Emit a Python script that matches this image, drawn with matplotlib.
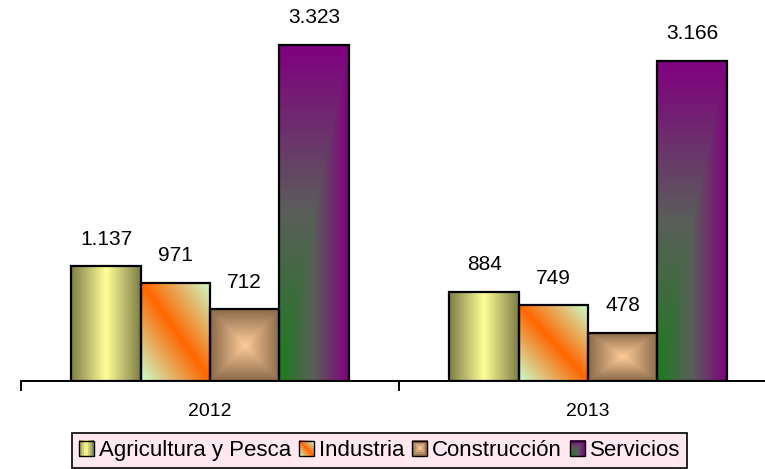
import numpy as np
import matplotlib
matplotlib.use("Agg")
import matplotlib.pyplot as plt
from matplotlib.patches import Rectangle
from matplotlib.legend_handler import HandlerBase
from matplotlib.colors import to_rgb
import matplotlib.transforms as mtransforms

plt.rcParams['font.family'] = ['Liberation Sans', 'DejaVu Sans']

years = ["2012", "2013"]
sectors = ["Agricultura y Pesca", "Industria", "Construcción", "Servicios"]
agricultura = [1137, 884]
industria = [971, 749]
construccion = [712, 478]
servicios = [3323, 3166]
series = [agricultura, industria, construccion, servicios]


def mix(c0, c1, t):
    c0 = np.array(to_rgb(c0)); c1 = np.array(to_rgb(c1))
    t = np.clip(t, 0, 1)[..., None]
    return c0 * (1 - t) + c1 * t


def mix3(c0, c1, c2, t):
    t = np.clip(t, 0, 1)
    a = mix(c0, c1, t * 2)
    b = mix(c1, c2, t * 2 - 1)
    return np.where((t < 0.5)[..., None], a, b)


def grad_agri(xn, yn):
    return mix("#FFFF99", "#7E7E45", np.abs(xn - 0.5) * 2)


def grad_ind(xn, yn):
    return mix("#FF6600", "#CCFFCC", np.abs(xn + yn - 1))


def grad_con(xn, yn):
    t = np.maximum(np.abs(xn - 0.5), np.abs(yn - 0.5)) * 2
    return mix("#FFCC99", "#8A6A4A", t)


def grad_serv(xn, yn):
    t = np.maximum(xn, yn)
    return mix3("#1C7C1C", "#5A5E5A", "#800080", t)


grads = [grad_agri, grad_ind, grad_con, grad_serv]


def grad_image(fn, n=120):
    xs = np.linspace(0, 1, n)
    ys = np.linspace(0, 1, n)
    X, Y = np.meshgrid(xs, ys)
    return fn(X, Y)


fig = plt.figure(figsize=(7.65, 4.69), dpi=100)
W, H = 765, 469
ax = fig.add_axes([21 / W, (H - 381) / H, 756 / W, 381 / H])

x = np.arange(len(years))
bw = 0.1833
offsets = (np.arange(4) - 1.5) * bw
lab_shift = mtransforms.ScaledTranslation(0, 27 / 100, fig.dpi_scale_trans)

for s, (vals, fn) in enumerate(zip(series, grads)):
    img = grad_image(fn)
    for i, v in enumerate(vals):
        x0 = x[i] + offsets[s] - bw / 2
        ax.imshow(img, extent=(x0, x0 + bw, 0, v), origin="lower",
                  aspect="auto", interpolation="bilinear", zorder=2)
        ax.add_patch(Rectangle((x0, 0), bw, v, facecolor="none",
                               edgecolor="black", linewidth=1.6, zorder=3))
        ax.text(x[i] + offsets[s], v, f"{v:,}".replace(",", "."),
                ha="center", va="center", fontsize=15,
                transform=ax.transData + lab_shift, zorder=4)

ax.set_xlim(-0.5, 1.5)
ax.set_ylim(0, 3768)
for sp in ["left", "top", "right"]:
    ax.spines[sp].set_visible(False)
ax.spines["bottom"].set_linewidth(1.4)
ax.spines["bottom"].set_zorder(5)
ax.set_yticks([])
ax.set_xticks([-0.5, 0.5, 1.5])
ax.set_xticklabels([])
ax.tick_params(axis="x", which="major", length=7, width=1.4, direction="out")
ax.set_xticks(x, minor=True)
ax.set_xticklabels(years, minor=True, fontsize=14)
ax.tick_params(axis="x", which="minor", length=0, pad=16)
ax.set_facecolor("none")


class GradHandler(HandlerBase):
    def __init__(self, fn):
        super().__init__()
        self.fn = fn

    def create_artists(self, legend, orig_handle, xdescent, ydescent,
                       width, height, fontsize, trans):
        side = min(width, height)
        x0 = -xdescent + (width - side) / 2
        y0 = -ydescent + (height - side) / 2
        n = 8
        arts = []
        for i in range(n):
            for j in range(n):
                xn = (i + 0.5) / n
                yn = (j + 0.5) / n
                c = self.fn(np.array(xn), np.array(yn))
                arts.append(Rectangle((x0 + i * side / n, y0 + j * side / n),
                                      side / n + 0.3, side / n + 0.3,
                                      facecolor=c, edgecolor="none",
                                      transform=trans))
        arts.append(Rectangle((x0, y0), side, side, facecolor="none",
                              edgecolor="black", linewidth=1.0, transform=trans))
        return arts


handles = [Rectangle((0, 0), 1, 1) for _ in sectors]
hmap = {h: GradHandler(fn) for h, fn in zip(handles, grads)}
leg = fig.legend(handles, sectors, handler_map=hmap, loc="center",
                 bbox_to_anchor=(379.5 / W, 1 - 450.5 / H), ncol=4,
                 fontsize=16, handlelength=0.68, handleheight=0.68,
                 handletextpad=0.22, columnspacing=0.36, borderpad=0.3,
                 borderaxespad=0, fancybox=False, framealpha=1, frameon=True)
leg.get_frame().set_facecolor("#FFE8F0")
leg.get_frame().set_edgecolor("black")
leg.get_frame().set_linewidth(1.2)

fig.savefig("out.png", dpi=100)
